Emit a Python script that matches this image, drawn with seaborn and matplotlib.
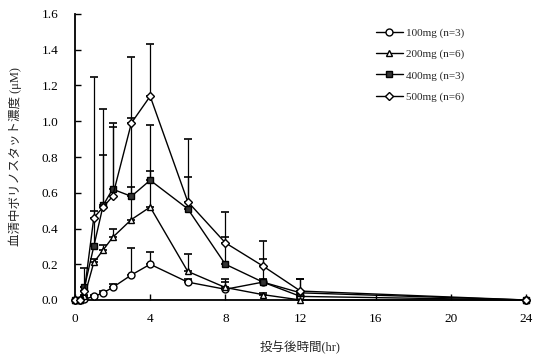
import matplotlib
matplotlib.use("Agg")
import matplotlib.pyplot as plt
import seaborn as sns
import pandas as pd
import numpy as np

time = [0, 0.25, 0.5, 1, 1.5, 2, 3, 4, 6, 8, 10, 12, 24]
groups = ["100mg (n=3)", "200mg (n=6)", "400mg (n=3)", "500mg (n=6)"]
c100 = [0, 0, 0.005, 0.02, 0.04, 0.07, 0.14, 0.20, 0.10, 0.06, 0.10, 0.02, 0.0]
e100 = [0, 0, 0, 0.01, 0.01, 0.02, 0.15, 0.07, 0.02, 0.04, 0.02, 0.01, 0]
c200 = [0, 0, 0.02, 0.21, 0.28, 0.35, 0.45, 0.52, 0.16, 0.07, 0.03, 0.0, 0]
e200 = [0, 0, 0.01, 0.02, 0.03, 0.05, 0.18, 0.20, 0.10, 0.05, 0.01, 0.01, 0]
c400 = [0, 0, 0.07, 0.30, 0.53, 0.62, 0.58, 0.67, 0.51, 0.20, 0.10, 0.04, 0]
e400 = [0, 0, 0.11, 0.20, 0.28, 0.35, 0.44, 0.31, 0.18, 0.15, 0.13, 0.08, 0]
c500 = [0, 0, 0.05, 0.46, 0.52, 0.58, 0.99, 1.14, 0.55, 0.32, 0.19, 0.05, 0]
e500 = [0, 0, 0.02, 0.79, 0.55, 0.41, 0.37, 0.29, 0.35, 0.17, 0.14, 0.07, 0]

means = [c100, c200, c400, c500]
errs = [e100, e200, e400, e500]
markers = ["o", "^", "s", "D"]
faces = ["white", "white", "#333333", "white"]
msizes = [5.0, 5.0, 3.8, 4.5]

sns.set_style("ticks")
plt.rcParams["font.family"] = ["Liberation Serif", "Noto Sans CJK JP"]

rows = []
for g, m in zip(groups, means):
    for t, v in zip(time, m):
        rows.append({"time": t, "conc": v, "group": g})
df = pd.DataFrame(rows)

fig = plt.figure(figsize=(5.36, 3.59), dpi=100)
ax = fig.add_axes([75 / 536, 1 - 300 / 359, 451 / 536, 286 / 359])

for g, m, e, mk, fc, ms in zip(groups, means, errs, markers, faces, msizes):
    ax.errorbar(time, m, yerr=[np.zeros(len(e)), e], fmt="none",
                ecolor="black", elinewidth=0.9, capsize=3, capthick=1.2, zorder=2)
    sub = df[df["group"] == g]
    sns.lineplot(data=sub, x="time", y="conc", ax=ax, color="black",
                 linewidth=1.0, marker=mk, markersize=ms,
                 markerfacecolor=fc, markeredgecolor="black",
                 markeredgewidth=1.0, label=g, zorder=3, clip_on=False)

ax.set_xlim(0, 24)
ax.set_ylim(0, 1.6)
ax.set_xticks([0, 4, 8, 12, 16, 20, 24])
ax.set_yticks(np.arange(0, 1.61, 0.2))
ax.set_yticklabels([f"{v:.1f}" for v in np.arange(0, 1.61, 0.2)])
ax.tick_params(direction="in", length=4, width=1, labelsize=9.5, colors="black")
ax.tick_params(axis="y", pad=12)
ax.tick_params(axis="x", pad=9)
for s in ["left", "bottom"]:
    ax.spines[s].set_linewidth(1.3)
    ax.spines[s].set_color("black")
sns.despine(ax=ax)

ax.set_xlabel("投与後時間(hr)", fontsize=9, labelpad=12)
ax.set_ylabel("血清中ボリノスタット濃度 (μM)", fontsize=9, labelpad=14)

leg = ax.legend(loc="upper left", bbox_to_anchor=(0.645, 0.985), frameon=False,
                fontsize=8, handlelength=2.4, labelspacing=1.0,
                handletextpad=0.3)

fig.savefig("out.png", dpi=100)
